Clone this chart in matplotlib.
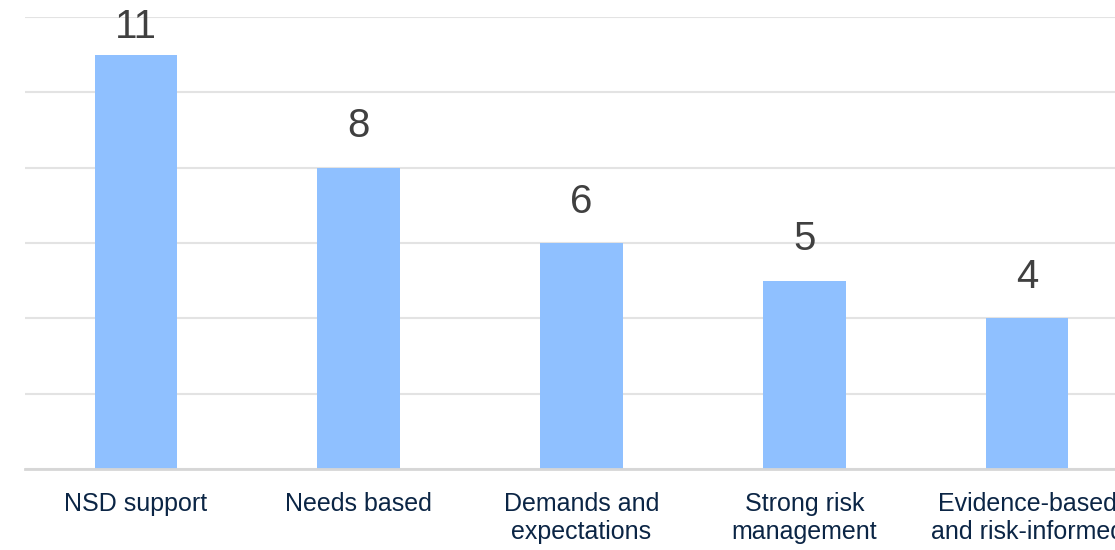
import matplotlib
matplotlib.use("Agg")
import matplotlib.pyplot as plt

categories = ["NSD support", "Needs based", "Demands and\nexpectations",
              "Strong risk\nmanagement", "Evidence-based\nand risk-informed"]
values = [11, 8, 6, 5, 4]

plt.rcParams['font.family'] = ['Liberation Sans', 'DejaVu Sans']

fig = plt.figure(figsize=(11.15, 5.5), dpi=100)
ax = fig.add_axes([24.5 / 1115, 81 / 550, 1114 / 1115, 452 / 550])

x = list(range(len(categories)))
ax.bar(x, values, width=0.37, color="#8fc0ff", zorder=3)

ax.set_xlim(-0.5, len(categories) - 0.5)
ax.set_ylim(0, 12)
ax.set_yticks(range(0, 13, 2))
ax.yaxis.grid(True, color="#e3e3e3", linewidth=1.5, zorder=0)
ax.tick_params(axis='y', left=False, labelleft=False)
ax.set_xticks(x)
ax.set_xticklabels(categories, fontsize=18, color="#0b2545", linespacing=1.2)
ax.tick_params(axis='x', bottom=False, pad=13)

for s in ['top', 'right', 'left']:
    ax.spines[s].set_visible(False)
ax.spines['bottom'].set_color("#d6d6d6")
ax.spines['bottom'].set_linewidth(2)
ax.spines['bottom'].set_zorder(4)

fig.canvas.draw()
renderer = fig.canvas.get_renderer()
H = fig.bbox.height
off = 16
for xi, v in zip(x, values):
    t = ax.annotate(str(v), (xi, v), xytext=(0, off), textcoords='offset points',
                    ha='center', va='bottom', fontsize=29, color="#404040")
    bb = t.get_window_extent(renderer)
    if bb.y1 > H - 8:
        shift = (bb.y1 - (H - 8)) * 72 / fig.dpi
        t.set_position((0, off - shift))

fig.savefig("out.png", dpi=100)
